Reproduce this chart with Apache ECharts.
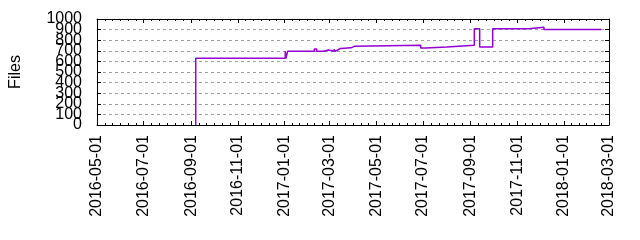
<!DOCTYPE html>
<html>
<head>
<meta charset="utf-8">
<script src="https://cdn.jsdelivr.net/npm/echarts@6/dist/echarts.min.js"></script>
<style>html,body{margin:0;padding:0;background:#fff}#c{width:640px;height:240px}</style>
</head>
<body>
<div id="c"></div>
<script>
// ---- data ----
const xMin = '2016-05-01';
const xMax = '2018-03-01';
const xTickDates = ['2016-05-01','2016-07-01','2016-09-01','2016-11-01','2017-01-01','2017-03-01','2017-05-01','2017-07-01','2017-09-01','2017-11-01','2018-01-01','2018-03-01'];
const yMin = 0, yMax = 1000, yStep = 100;
const yTickLabels = ['0','100','200','300','400','500','600','700','800','900','1000'];
const stepDates = ['2016-09-07','2016-09-07','2017-01-02','2017-01-03','2017-01-05','2017-02-09','2017-02-12','2017-02-22','2017-02-27','2017-02-28','2017-03-07','2017-03-08','2017-03-10','2017-03-12','2017-03-15','2017-03-29','2017-04-02','2017-06-28','2017-07-05','2017-08-01','2017-09-06','2017-09-06','2017-09-13','2017-09-30','2017-11-08','2017-11-09','2017-11-16','2017-12-06','2018-02-19'];
const fileCounts = [0,630,695,630,695,718,695,708,720,695,715,695,710,722,728,742,752,726,736,752,740,908,736,908,920,908,922,900,900];
const yName = 'Files';

// ---- build ----
const P = s => +echarts.time.parse(s);
const majorVals = xTickDates.map(P);
const minorVals = [];
for (let i = 0; i < majorVals.length - 1; i++) {
  for (let k = 1; k < 6; k++) minorVals.push(majorVals[i] + (majorVals[i+1] - majorVals[i]) * k / 6);
}
const yVals = yTickLabels.map(Number);
const yValsEven = yVals.filter((v, i) => i % 2 === 0);
const yValsOdd = yVals.filter((v, i) => i % 2 === 1);
const FONT = 'Liberation Sans';
const black = '#000';
function xAx(pos, vals, len, labels, line) {
  return {
    type: 'value', position: pos, min: P(xMin), max: P(xMax), scale: true,
    axisLine: {show: line, onZero: false, lineStyle: {color: black, width: 1}},
    axisTick: {show: true, inside: true, length: len, customValues: vals, lineStyle: {color: black, width: 1}},
    axisLabel: labels ? {
      show: true, customValues: vals, rotate: 90, margin: 10, color: black,
      fontFamily: FONT, fontSize: 16, showMinLabel: true, showMaxLabel: true, hideOverlap: false,
      padding: [0, 0, 5, 0],
      formatter: v => echarts.time.format(v, '{yyyy}-{MM}-{dd}', false)
    } : {show: false},
    splitLine: {show: false}, minorTick: {show: false}
  };
}
function yLabelAxis(vals) {
  return {
    type: 'value', position: 'left', min: yMin, max: yMax, interval: yStep,
    axisLine: {show: false, onZero: false}, axisTick: {show: false}, splitLine: {show: false},
    axisLabel: {show: true, margin: 15, color: black, fontFamily: FONT, fontSize: 16,
      customValues: vals, formatter: v => String(v)}
  };
}
const data = stepDates.map((d, i) => [P(d), fileCounts[i]]);
const option = {
  animation: false,
  backgroundColor: '#fff',
  grid: {left: 95, right: 31, top: 19, bottom: 115, containLabel: false},
  xAxis: [
    xAx('bottom', majorVals, 4, true, true),
    xAx('bottom', minorVals, 2, false, false),
    xAx('top', majorVals, 4, false, true),
    xAx('top', minorVals, 2, false, false)
  ],
  yAxis: [
    {
      type: 'value', position: 'left', min: yMin, max: yMax, interval: yStep,
      name: yName, nameLocation: 'middle', nameRotate: 90, nameGap: 73,
      nameTextStyle: {color: black, fontFamily: FONT, fontSize: 16},
      axisLine: {show: true, onZero: false, lineStyle: {color: black}},
      axisTick: {show: true, inside: true, length: 4, lineStyle: {color: black}},
      axisLabel: {show: false},
      splitLine: {show: true, lineStyle: {color: '#a0a0a0', type: [3, 3], width: 1}}
    },
    {
      type: 'value', position: 'right', min: yMin, max: yMax, interval: yStep,
      axisLine: {show: true, onZero: false, lineStyle: {color: black}},
      axisTick: {show: true, inside: true, length: 4, lineStyle: {color: black}},
      axisLabel: {show: false}, splitLine: {show: false}
    },
    yLabelAxis(yValsEven),
    yLabelAxis(yValsOdd)
  ],
  series: [{
    type: 'line', xAxisIndex: 0, yAxisIndex: 0, step: 'end', data: data,
    showSymbol: false, symbol: 'none',
    lineStyle: {color: '#9400d3', width: 1.5}
  }]
};
echarts.init(document.getElementById('c'), null, {renderer: 'canvas'}).setOption(option);
</script>
</body>
</html>
